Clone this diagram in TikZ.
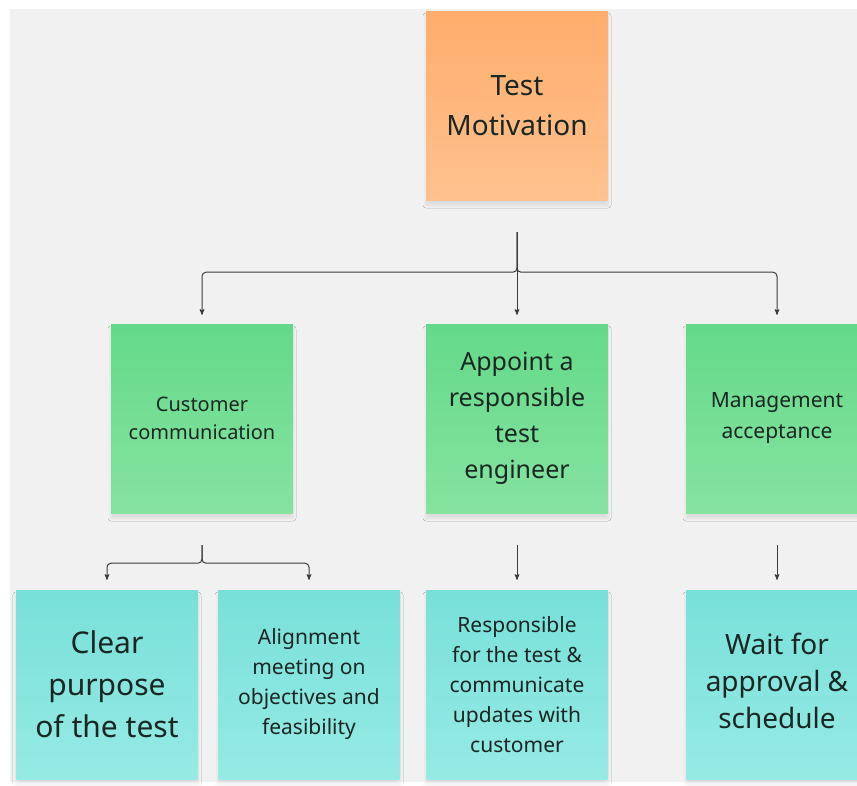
\documentclass[tikz,border=0pt]{standalone}
\usepackage{fontspec}
\setmainfont{Noto Sans}
\usepackage{tikz}
\usetikzlibrary{arrows,shadows.blur}

\definecolor{boardgray}{HTML}{F1F1F1}
\definecolor{inkdark}{HTML}{1A2623}
\definecolor{wireclr}{HTML}{3C3C3C}
\definecolor{orangetop}{HTML}{FFAD6C}
\definecolor{orangebot}{HTML}{FFC18F}
\definecolor{greentop}{HTML}{64D989}
\definecolor{greenbot}{HTML}{86E3A0}
\definecolor{cyantop}{HTML}{78E0D9}
\definecolor{cyanbot}{HTML}{96EAE4}

\tikzset{
  sticky/.style={minimum width=182pt, minimum height=189pt, inner sep=0pt,
    align=center, text=inkdark,
    blur shadow={shadow xshift=0pt, shadow yshift=-5pt,
      shadow blur radius=3pt, shadow blur steps=6, shadow opacity=9}},
  motive/.style={sticky, top color=orangetop, bottom color=orangebot},
  branch/.style={sticky, top color=greentop, bottom color=greenbot},
  leaf/.style={sticky, top color=cyantop, bottom color=cyanbot},
  wire/.style={->, draw=wireclr, line width=1pt, rounded corners=4pt}
}

\newcommand{\fs}[2]{\fontsize{#1}{#2}\selectfont}

\begin{document}
\begin{tikzpicture}[x=1pt,y=-1pt,>=stealth']
  \useasboundingbox (0,0) rectangle (857,785);
  \clip (0,0) rectangle (857,785);
  \fill[white] (0,0) rectangle (857,785);
  \fill[boardgray] (10,9) rectangle (857,782);

  % top level
  \node[motive, font=\fs{28}{40}] (motive) at (517,105.5) {Test\\Motivation};

  % second level
  \node[branch, font=\fs{20}{28}] (cust)    at (202,418.5) {Customer\\communication};
  \node[branch, font=\fs{25}{36}] (appoint) at (517,418.5) {Appoint a\\responsible\\test\\engineer};
  \node[branch, font=\fs{21}{31}] (mgmt)    at (777,418.5) {Management\\acceptance};

  % third level
  \node[leaf, font=\fs{30}{42}] (clear) at (107,684.5) {Clear\\purpose\\of the test};
  \node[leaf, font=\fs{21}{30}] (align) at (309,684.5) {Alignment\\meeting on\\objectives and\\feasibility};
  \node[leaf, font=\fs{21}{30}] (resp)  at (517,684.5) {Responsible\\for the test \&\\communicate\\updates with\\customer};
  \node[leaf, font=\fs{28}{37}] (wait)  at (777,684.5) {\raisebox{4pt}{\begin{tabular}{@{}c@{}}Wait for\\approval \&\\schedule\end{tabular}}};

  % connectors
  \draw[wire, shorten <=32pt, shorten >=9pt] (motive.south) -- ++(0,72) -| (cust.north);
  \draw[wire, shorten <=32pt, shorten >=9pt] (motive.south) -- ++(0,72) -| (mgmt.north);
  \draw[wire, shorten <=32pt, shorten >=9pt] (motive.south) -- (appoint.north);

  \draw[wire, shorten <=32pt, shorten >=10pt] (cust.south) -- ++(0,50) -| (clear.north);
  \draw[wire, shorten <=32pt, shorten >=10pt] (cust.south) -- ++(0,50) -| (align.north);
  \draw[wire, shorten <=32pt, shorten >=10pt] (appoint.south) -- (resp.north);
  \draw[wire, shorten <=32pt, shorten >=10pt] (mgmt.south) -- (wait.north);
\end{tikzpicture}
\end{document}
